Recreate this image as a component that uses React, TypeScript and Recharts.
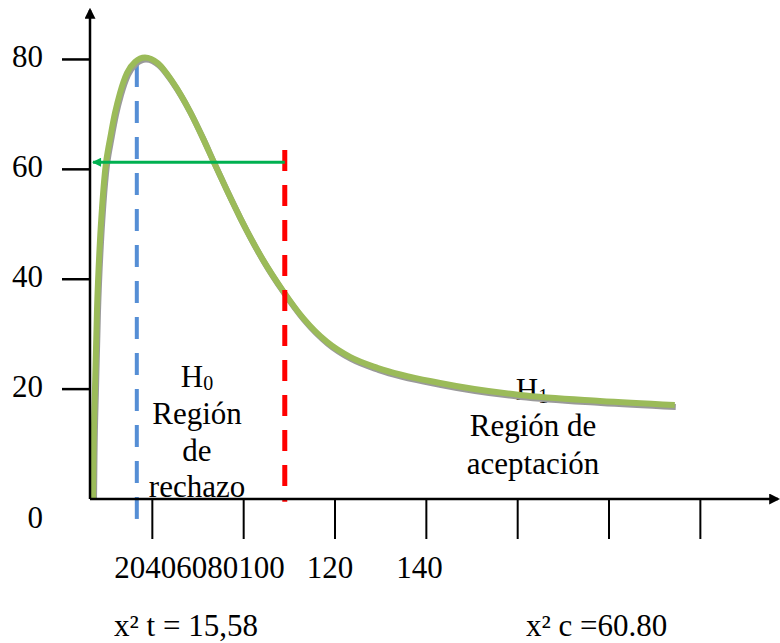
import { LineChart, Line, XAxis, YAxis, ReferenceLine } from 'recharts';

// curve
const curveX = [7.01, 7.12, 7.45, 7.88, 8.54, 8.98, 9.42, 9.85, 10.29, 10.73, 11.82, 12.92, 14.45, 16.2, 18.39, 21.24, 24.3, 28.25, 30.87, 33.5, 36.35, 39.19, 44.23, 48.61, 52.99, 58.24, 63.28, 69.41, 82.99, 100.5, 118.0, 134.4];
const curveY = [0, 8.37, 20.39, 34.4, 47.14, 52.97, 57.7, 61.16, 63.52, 65.53, 70.26, 73.9, 77.54, 79.54, 80.36, 79.29, 76.08, 70.51, 66.04, 61.23, 56.13, 51.27, 43.52, 37.88, 32.96, 28.59, 25.86, 23.83, 21.11, 18.93, 17.84, 17.11];

const xTicks = [20, 40, 60, 80, 100, 120, 140];
const yTicks = [0, 20, 40, 60, 80];

const tableX = 16.6; // blue dashed
const tableTop = 79;
const calcX = 49.0; // red dashed
const calcTop = 63.5;
const arrowY = 61.3;
const arrowEndX = 7.0;

const h0Lines = ['Región', 'de', 'rechazo'];
const h1Lines = ['Región de', 'aceptación'];
const bottomLeft = 'x² t = 15,58';
const bottomRight = 'x² c =60.80';

const data = curveX.map((x, i) => ({ x, y: curveY[i] }));

const FONT = "'Liberation Serif', 'Times New Roman', serif";
const txt = { fontFamily: FONT, fontSize: 31, fill: '#000' };

function YTick({ x, y, payload }: any) {
  const v = payload.value;
  if (v === 0) {
    return (
      <text x={x} y={y + 29} textAnchor="end" style={txt}>0</text>
    );
  }
  return (
    <g>
      <line x1={x + 19} x2={x + 47} y1={y} y2={y} stroke="#000" strokeWidth={2.5} />
      <text x={x} y={y + 8} textAnchor="end" style={txt}>{v}</text>
    </g>
  );
}

function XTick({ x, y, index }: any) {
  if (index !== 0) return <g />;
  return (
    <text x={x - 38} y={y + 37} style={txt}>
      {xTicks.slice(0, 5).join('')}
      <tspan dx={22}>{xTicks[5]}</tspan>
      <tspan dx={43}>{xTicks[6]}</tspan>
    </text>
  );
}

export default function App() {
  return (
    <div style={{ position: 'absolute', left: 0, top: 0, width: 780, height: 643, background: '#fff' }}>
      <style>{`.shadowed path { filter: drop-shadow(1px 2px 0px #9a9a9a); }`}</style>
      <svg width={780} height={643} style={{ position: 'absolute', left: 0, top: 0 }}>
        <defs>
          <marker id="axisArrow" viewBox="0 0 10 10" refX={8} refY={5} markerWidth={11} markerHeight={11} markerUnits="userSpaceOnUse" orient="auto-start-reverse">
            <path d="M0,0 L10,5 L0,10 z" fill="#000" />
          </marker>
          <marker id="greenArrow" viewBox="0 0 10 10" refX={9} refY={5} markerWidth={11} markerHeight={9} markerUnits="userSpaceOnUse" orient="auto">
            <path d="M0,0 L10,5 L0,10 z" fill="#00B050" />
          </marker>
        </defs>
        <g style={txt} textAnchor="middle">
          <text x={197} y={387} style={txt}>H<tspan fontSize={20} dy={3}>0</tspan></text>
          {h0Lines.map((t, i) => (
            <text key={t} x={197} y={424 + i * 36.7} style={txt}>{t}</text>
          ))}
          <text x={532} y={400} style={txt}>H<tspan fontSize={20} dy={3}>1</tspan></text>
          {h1Lines.map((t, i) => (
            <text key={t} x={533} y={436 + i * 38} style={txt}>{t}</text>
          ))}
          <text x={114} y={636} textAnchor="start" style={txt}>{bottomLeft}</text>
          <text x={526} y={636} textAnchor="start" style={txt}>{bottomRight}</text>
        </g>
      </svg>
      <div style={{ position: 'absolute', left: 0, top: 0 }}>
        <LineChart width={780} height={643} data={data} margin={{ top: 10, right: 2, bottom: 0, left: 0 }}>
          <XAxis
            dataKey="x"
            type="number"
            domain={[6.35, 157]}
            allowDataOverflow
            ticks={xTicks}
            height={144}
            tickSize={40}
            tick={<XTick />}
            axisLine={{ stroke: '#000', strokeWidth: 2.5, markerEnd: 'url(#axisArrow)' }}
            tickLine={{ stroke: '#000', strokeWidth: 2 }}
          />
          <YAxis
            type="number"
            domain={[0, 89]}
            allowDataOverflow
            ticks={yTicks}
            width={90}
            tickSize={28}
            tickMargin={19}
            tickLine={false}
            tick={<YTick />}
            axisLine={{ stroke: '#000', strokeWidth: 2.5, markerStart: 'url(#axisArrow)' }}
          />
          <ReferenceLine
            segment={[{ x: tableX, y: tableTop }, { x: tableX, y: -5.3 }]}
            stroke="#558ED5"
            strokeWidth={4}
            strokeDasharray="22 14"
            ifOverflow="visible"
          />
          <Line
            type="monotone"
            dataKey="y"
            stroke="#9BBB59"
            strokeWidth={6}
            dot={false}
            activeDot={false}
            className="shadowed"
            isAnimationActive={false}
          />
          <ReferenceLine
            segment={[{ x: calcX, y: calcTop }, { x: calcX, y: -0.5 }]}
            stroke="#FF0000"
            strokeWidth={5}
            strokeDasharray="21 14"
            ifOverflow="visible"
          />
          <ReferenceLine
            segment={[{ x: calcX, y: arrowY }, { x: arrowEndX, y: arrowY }]}
            stroke="#00B050"
            strokeWidth={3}
            markerEnd="url(#greenArrow)"
            ifOverflow="visible"
          />
        </LineChart>
      </div>
    </div>
  );
}
